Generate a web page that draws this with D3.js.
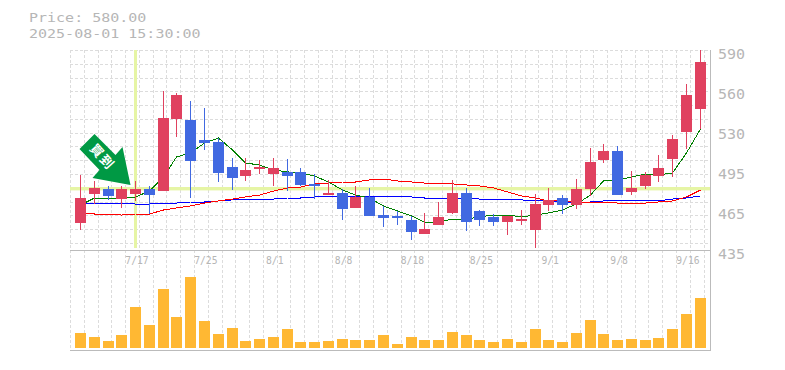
<!DOCTYPE html>
<html>
<head>
<meta charset="utf-8">
<script src="https://cdn.jsdelivr.net/npm/d3@7"></script>
<style>
  body { margin: 0; background: #fff; }
  text { font-family: "DejaVu Sans Mono", monospace; fill: #b6b6b6; opacity: 0.999; }
</style>
</head>
<body>
<div id="chart"></div>
<script>
const titleLines = ["Price: 580.00", "2025-08-01 15:30:00"];
const markedPrice = 482;
const markedIndex = 4;

const opens = [455.9,478.4,482.3,474.5,478.4,482.3,480.7,536.5,535.8,520.3,518.7,499.3,492.4,497.8,493.9,495.5,495.5,486.2,477.6,479.2,467.6,476.1,462.1,461.4,458.3,447.4,454.4,463.7,479.2,465.2,460.6,456.7,457.5,450.5,469.9,475.3,469.9,482.3,504.8,511.7,480,484.6,492.4,505.5,526.5,544.3];
const closes = [475.3,483.1,476.9,482.3,482.3,477.6,537.3,555.1,504,517.9,494.7,490.8,497,499.3,498.6,492.4,485.4,484.6,479.2,466.8,476.1,461.4,459.8,459.8,449,451.3,460.6,479.2,456.7,458.3,456.7,461.4,459,470.7,473.8,469.9,482.3,503.2,511.7,477.6,483.1,493.1,498.6,521,555.1,580.7];
const highs = [493.1,488.5,484.6,484.6,488.5,484.6,558.2,556.7,550.5,545,521.8,506.3,506.3,504.8,506.3,505.5,498.6,493.9,489.3,482.3,484.6,483.1,469.1,465.2,461.4,463.7,472.2,489.3,483.1,466,462.9,461.4,466,478.4,483.1,477.6,490,514,517.2,515.6,496.2,495.5,508.6,524.1,563.7,590];
const lows = [450.5,470.7,473.8,467.6,473,462.9,480.7,522.6,475.3,512.5,487.7,481.5,488.5,493.9,484.6,480.7,484.6,474.5,477.6,458.3,467.6,461.4,452.8,454.4,442.8,447.4,454.4,462.9,449.7,453.6,453.6,446.6,454.4,436.6,465.2,462.9,466.8,476.9,502.4,477.6,477.6,482.3,487.7,491.6,513.3,528.8];
const volumes = [15,11,7,13,41,23,59,31,71,27,14,20,7,9,11,19,6,6,7,9,8,8,13,4,11,8,8,16,13,8,6,9,6,19,8,6,15,28,14,8,9,8,10,19,34,50];

const maShort = [469.9,475.3,475.3,475.3,476.1,480.7,491.6,507.1,510.2,517.9,521.8,512.5,502.4,500.9,497,495.5,494.7,492.4,487.7,481.5,477.6,475.3,469.1,465.2,461.4,456.7,456.7,459,459,460.6,462.1,462.1,460.6,462.1,463.7,466,470.7,477.6,488.5,489.3,491.6,493.9,493.1,494.7,510.2,528.8];
const maMid = [463.7,462.9,462.9,462.1,462.9,462.9,466,467.6,469.1,471.4,473,474.5,476.1,477.6,480.7,483.1,483.8,486.2,486.9,487.7,487.7,489.3,490,488.5,487.7,486.9,486.2,486.2,485.4,484.6,483.1,480,476.9,475.3,473,473,472.2,472.2,472.2,471.4,471.4,471.4,472.2,473,476.1,481.5];
const maLong = [471.4,471.4,471.4,471.4,470.6,470.6,471.4,471.4,472.2,472.2,473,473.8,473.8,474.5,474.5,475.3,475.3,476.1,476.1,476.1,476.1,476.1,476.1,476.1,476.1,475.3,475.3,475.3,475.3,474.5,474.5,473.8,473.8,473,473,472.2,471.4,472.2,473,473,473,473,473,474.5,475.3,476.9];

const priceTicks = [435,466,497,528,559,590];
const dateLabels = ["7/17","7/25","8/1","8/8","8/18","8/25","9/1","9/8","9/16"];
const dateIndexes = [4,9,14,19,24,29,34,39,44];

const width = 785, height = 370;
const plotLeft = 70, plotRight = 710, plotTop = 50, priceBottom = 250, chartBottom = 350;
const candleWidth = 11;
const step = (700.3 - 80.5) / 45;

const svg = d3.select("#chart").append("svg")
  .attr("width", width)
  .attr("height", height)
  .style("display", "block");

const x = d3.scaleLinear().domain([0, opens.length - 1]).range([80.5, 700.3]);
const y = d3.scaleLinear().domain([435, 590]).range([priceBottom, plotTop]);
const v = d3.scaleLinear().domain([0, 71]).range([348, 277]);

const candleLeft = i => Math.round(x(i) - candleWidth / 2);
const candleMid = i => candleLeft(i) + 5.5;

// the reference glyphs are short and wide, so the text is stretched sideways
titleLines.forEach((t, i) => {
  svg.append("text")
    .attr("transform", "translate(29," + (22 + i * 16) + ") scale(1.25,1)")
    .attr("font-size", "12px")
    .text(t);
});

// dashed grid
let grid = svg.append("g")
  .attr("stroke", "#dcdcdc")
  .attr("stroke-dasharray", "3,2")
  .attr("shape-rendering", "crispEdges");

d3.range(47).forEach(i => {
  let gx = Math.round(x(i) - 10.5) + 0.5;
  grid.append("line").attr("x1", gx).attr("x2", gx).attr("y1", plotTop).attr("y2", chartBottom);
});
d3.range(15).forEach(i => {
  let gy = Math.round(plotTop + i * step) + 0.5;
  grid.append("line").attr("x1", plotLeft).attr("x2", plotRight).attr("y1", gy).attr("y2", gy);
});

// highlight cross for the marked bar
svg.append("rect")
  .attr("x", candleMid(markedIndex) - 1.5)
  .attr("y", plotTop)
  .attr("width", 3)
  .attr("height", 198)
  .attr("fill", "#e6f5a5");
svg.append("rect")
  .attr("x", plotLeft)
  .attr("y", Math.round(y(markedPrice)) - 2)
  .attr("width", plotRight - plotLeft)
  .attr("height", 3.4)
  .attr("fill", "#e6f5a5");

// moving averages
let line = d3.line().x((d, i) => candleMid(i)).y(d => y(d));
[[maLong, "#0000ff"], [maMid, "#ff0000"], [maShort, "#008000"]].forEach(s => {
  svg.append("path")
    .attr("d", line(s[0]))
    .attr("fill", "none")
    .attr("stroke", s[1])
    .attr("stroke-width", 1)
    .attr("shape-rendering", "crispEdges");
});

// candles
const candleColor = i => closes[i] >= opens[i] ? "#e0415f" : "#4169e1";
let candles = svg.append("g").attr("shape-rendering", "crispEdges");

candles.selectAll(".wick")
  .data(opens)
  .enter()
  .append("rect")
  .attr("class", "wick")
  .attr("x", (d, i) => candleLeft(i) + 5)
  .attr("y", (d, i) => y(highs[i]))
  .attr("width", 1)
  .attr("height", (d, i) => y(lows[i]) - y(highs[i]))
  .attr("fill", (d, i) => candleColor(i));

candles.selectAll(".body")
  .data(opens)
  .enter()
  .append("rect")
  .attr("class", "body")
  .attr("x", (d, i) => candleLeft(i))
  .attr("y", (d, i) => y(Math.max(opens[i], closes[i])))
  .attr("width", candleWidth)
  .attr("height", (d, i) => Math.abs(y(opens[i]) - y(closes[i])))
  .attr("fill", (d, i) => candleColor(i));

// volume
svg.append("g")
  .attr("shape-rendering", "crispEdges")
  .selectAll("rect")
  .data(volumes)
  .enter()
  .append("rect")
  .attr("x", (d, i) => candleLeft(i))
  .attr("y", d => v(d))
  .attr("width", candleWidth)
  .attr("height", d => v(0) - v(d))
  .attr("fill", "#ffb833");

// frame
let frame = svg.append("g")
  .attr("stroke", "#bbb")
  .attr("shape-rendering", "crispEdges");
frame.append("line").attr("x1", plotLeft).attr("x2", plotRight).attr("y1", priceBottom + 0.5).attr("y2", priceBottom + 0.5);
frame.append("line").attr("x1", plotLeft).attr("x2", plotRight + 1).attr("y1", chartBottom + 0.5).attr("y2", chartBottom + 0.5);
frame.append("line").attr("x1", plotRight + 0.5).attr("x2", plotRight + 0.5).attr("y1", plotTop).attr("y2", chartBottom);

// price axis, labels snap to the nearest 5
let yAxis = d3.axisRight(y)
  .tickValues(priceTicks)
  .tickSize(0)
  .tickFormat(d => Math.round(d / 5) * 5);
let yAxisG = svg.append("g")
  .attr("transform", "translate(" + plotRight + ",0)")
  .call(yAxis);
yAxisG.select(".domain").remove();
yAxisG.attr("font-family", null);
yAxisG.selectAll("text")
  .attr("font-size", "13.5px")
  .attr("x", null)
  .attr("dy", null)
  .attr("transform", "translate(8,8) scale(1.11,1)");

// date axis
let xAxis = d3.axisBottom(x)
  .tickValues(dateIndexes)
  .tickSize(0)
  .tickPadding(6.5)
  .tickFormat((d, i) => dateLabels[i]);
let xAxisG = svg.append("g")
  .attr("transform", "translate(0," + priceBottom + ")")
  .call(xAxis);
xAxisG.select(".domain").remove();
xAxisG.attr("font-family", null);
xAxisG.selectAll("text")
  .attr("font-size", "11px")
  .attr("dx", "1px")
  .attr("transform", "scale(0.88,1)");

// green arrow pointing at the marked bar
const tipX = candleMid(markedIndex) - 5;
const tipY = y(highs[markedIndex]) + 4;
const arrowShape = [[-36,-51],[-51,-36],[-31,-15],[-38,-7],[0,0],[-8,-38],[-15,-30]];
let arrow = svg.append("g").attr("transform", "translate(" + tipX + "," + tipY + ")");
arrow.append("polygon")
  .attr("points", arrowShape.map(p => p.join(",")).join(" "))
  .attr("fill", "#009944");
arrow.append("text")
  .attr("transform", "translate(-28,-28) rotate(48)")
  .attr("text-anchor", "middle")
  .attr("dy", "0.36em")
  .attr("font-size", "13px")
  .attr("font-weight", "bold")
  .attr("letter-spacing", "2px")
  .style("font-family", '"Noto Sans CJK JP"')
  .style("fill", "#fff")
  .text("買到");
</script>
</body>
</html>
